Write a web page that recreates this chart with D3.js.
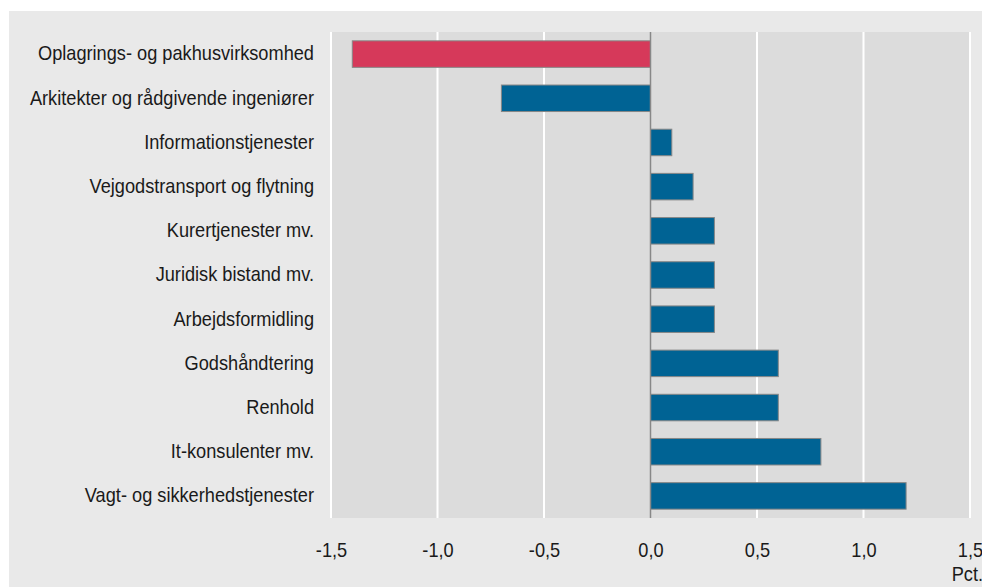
<!DOCTYPE html>
<meta charset="utf-8">
<head>
  <title>Brancher</title>
</head>
<style>
body {
  margin: 0;
  background: #fff;
  font-family: "Liberation Sans", Arial, sans-serif;
}
</style>
<body>
  <div id="content"></div>
  <script src="https://cdnjs.cloudflare.com/ajax/libs/d3/7.8.5/d3.min.js"></script>
  <script>

// Data
var categories = [
  'Oplagrings- og pakhusvirksomhed',
  'Arkitekter og rådgivende ingeniører',
  'Informationstjenester',
  'Vejgodstransport og flytning',
  'Kurertjenester mv.',
  'Juridisk bistand mv.',
  'Arbejdsformidling',
  'Godshåndtering',
  'Renhold',
  'It-konsulenter mv.',
  'Vagt- og sikkerhedstjenester'
];
var values = [-1.4, -0.7, 0.1, 0.2, 0.3, 0.3, 0.3, 0.6, 0.6, 0.8, 1.2];
var highlighted = ['Oplagrings- og pakhusvirksomhed'];
var ticks = [-1.5, -1.0, -0.5, 0.0, 0.5, 1.0, 1.5];
var unitLabel = 'Pct.';

var width = 982, height = 587;
var plot = {left: 331, right: 970, top: 32, bottom: 518};
var fontSize = 20;
var squeeze = 0.91; // narrow the sans font to look condensed

var svg = d3.select('#content').append('svg')
  .attr('width', width)
  .attr('height', height);

// outer panel
svg.append('rect')
  .attr('x', 9).attr('y', 11)
  .attr('width', width - 9).attr('height', height - 11)
  .attr('fill', '#e9e9e9');

var x = d3.scaleLinear()
  .domain([-1.5, 1.5])
  .range([plot.left, plot.right]);

var y = d3.scaleBand()
  .domain(categories)
  .range([plot.top, plot.bottom])
  .paddingInner(0.4)
  .paddingOuter(0.2);

// plot background
svg.append('rect')
  .attr('x', plot.left).attr('y', plot.top)
  .attr('width', plot.right - plot.left)
  .attr('height', plot.bottom - plot.top)
  .attr('fill', '#dcdcdc');

// grid lines
svg.append('g')
  .selectAll('line')
  .data(ticks.filter(function(d) { return d !== 0; }))
  .join('line')
  .attr('x1', function(d) { return x(d); })
  .attr('x2', function(d) { return x(d); })
  .attr('y1', plot.top)
  .attr('y2', plot.bottom)
  .attr('stroke', '#ffffff')
  .attr('stroke-width', 2);

// bars
svg.append('g')
  .selectAll('rect')
  .data(values)
  .join('rect')
  .attr('x', function(d) { return x(Math.min(0, d)); })
  .attr('y', function(d, i) { return y(categories[i]); })
  .attr('width', function(d) { return Math.abs(x(d) - x(0)); })
  .attr('height', y.bandwidth())
  .attr('fill', function(d, i) {
    return highlighted.indexOf(categories[i]) >= 0 ? '#d6395a' : '#006394';
  })
  .attr('stroke', '#878787')
  .attr('stroke-width', 1);

// zero line
svg.append('line')
  .attr('x1', x(0)).attr('x2', x(0))
  .attr('y1', plot.top).attr('y2', plot.bottom)
  .attr('stroke', '#888888')
  .attr('stroke-width', 1.5);

function styleText(sel) {
  sel.attr('font-family', '"Liberation Sans", Arial, sans-serif')
    .attr('font-size', fontSize)
    .attr('fill', '#1a1a1a')
    .attr('transform', 'scale(' + squeeze + ',1)');
}

// category labels
var yAxis = d3.axisLeft(y).tickSize(0).tickPadding(17 / squeeze);
svg.append('g')
  .attr('transform', 'translate(' + plot.left + ',0)')
  .call(yAxis)
  .call(function(g) { g.select('.domain').remove(); })
  .selectAll('text')
  .call(styleText);

// value axis
var fmt = function(d) { return d3.format('.1f')(d).replace('.', ',').replace('−', '-'); };
var xAxis = d3.axisBottom(x).tickValues(ticks).tickSize(0).tickPadding(24.5).tickFormat(fmt);
svg.append('g')
  .attr('transform', 'translate(0,' + plot.bottom + ')')
  .call(xAxis)
  .call(function(g) { g.select('.domain').remove(); })
  .selectAll('text')
  .call(styleText);

svg.append('g')
  .attr('transform', 'translate(983,581)')
  .append('text')
  .attr('text-anchor', 'end')
  .text(unitLabel)
  .call(styleText);
</script>
</body>
</html>
